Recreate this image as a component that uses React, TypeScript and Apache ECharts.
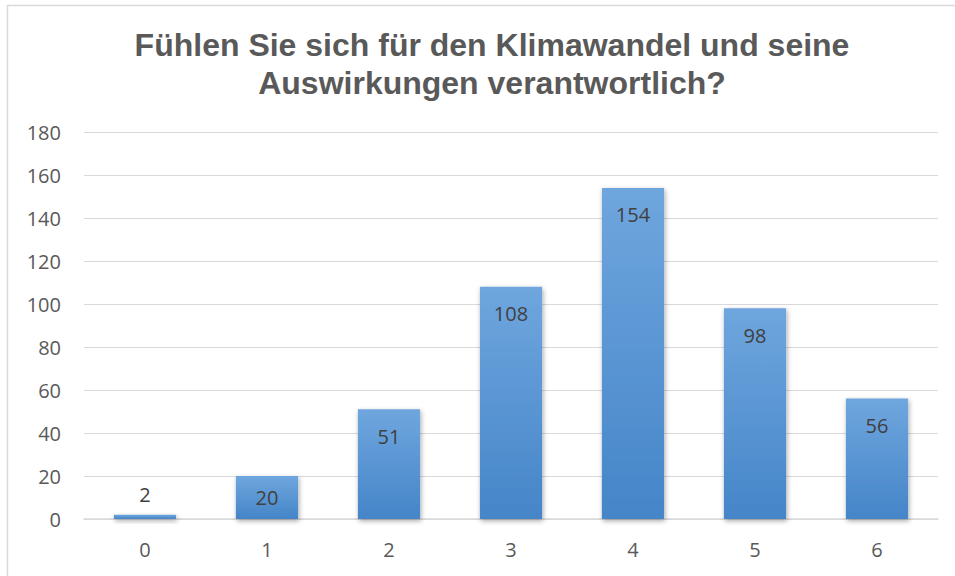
import React, { useEffect, useRef } from "react";
import * as echarts from "echarts";

const titleText = "Fühlen Sie sich für den Klimawandel und seine\nAuswirkungen verantwortlich?";
const categories = ["0", "1", "2", "3", "4", "5", "6"];
const values = [2, 20, 51, 108, 154, 98, 56];
const yTicks = { min: 0, max: 180, interval: 20 };

const labelFont = "Open Sans, Noto Sans, sans-serif";

export default function App() {
  const ref = useRef<HTMLDivElement>(null);
  useEffect(() => {
    if (!ref.current) return;
    const chart = echarts.init(ref.current, undefined, { renderer: "svg" });
    chart.setOption({
      animation: false,
      backgroundColor: "#ffffff",
      graphic: [
        {
          type: "rect",
          shape: { x: 7.5, y: 5.5, width: 980, height: 600 },
          style: { fill: "none", stroke: "#d9d9d9", lineWidth: 1.5 },
          silent: true,
        },
      ],
      title: {
        text: titleText,
        left: 487,
        textAlign: "center",
        top: 21,
        textStyle: {
          fontFamily: "'Liberation Sans', Arial, Helvetica, sans-serif",
          fontWeight: "bold",
          fontSize: 32,
          color: "#595959",
          lineHeight: 38,
        },
      },
      grid: { left: 84, right: 17, top: 132, bottom: 57, containLabel: false },
      xAxis: {
        type: "category",
        data: categories,
        axisLine: { show: true, lineStyle: { color: "#d9d9d9", width: 1.5 } },
        axisTick: { show: false },
        axisLabel: {
          color: "#595959",
          fontSize: 20,
          fontFamily: labelFont,
          margin: 20,
        },
      },
      yAxis: {
        type: "value",
        min: yTicks.min,
        max: yTicks.max,
        interval: yTicks.interval,
        axisLine: { show: false },
        axisTick: { show: false },
        splitLine: { lineStyle: { color: "#d9d9d9", width: 1 } },
        axisLabel: {
          color: "#595959",
          fontSize: 20,
          fontFamily: labelFont,
          margin: 23,
        },
      },
      series: [
        {
          type: "bar",
          data: values.map((v) => ({
            value: v,
            label:
              v < 10
                ? { position: "top", distance: 10 }
                : v < 30
                ? { position: "inside" }
                : undefined,
          })),
          barWidth: "51%",
          itemStyle: {
            color: new echarts.graphic.LinearGradient(0, 0, 0, 1, [
              { offset: 0, color: "#6fa6de" },
              { offset: 1, color: "#4585c8" },
            ]),
            shadowBlur: 5,
            shadowColor: "rgba(0,0,0,0.35)",
            shadowOffsetX: 1,
            shadowOffsetY: 2,
          },
          label: {
            show: true,
            position: "insideTop",
            distance: 17,
            color: "#404040",
            fontSize: 20,
            fontFamily: labelFont,
          },
        },
      ],
    });
    return () => chart.dispose();
  }, []);
  return (
    <div
      ref={ref}
      style={{ position: "fixed", left: 0, top: 0, width: 955, height: 576 }}
    />
  );
}
